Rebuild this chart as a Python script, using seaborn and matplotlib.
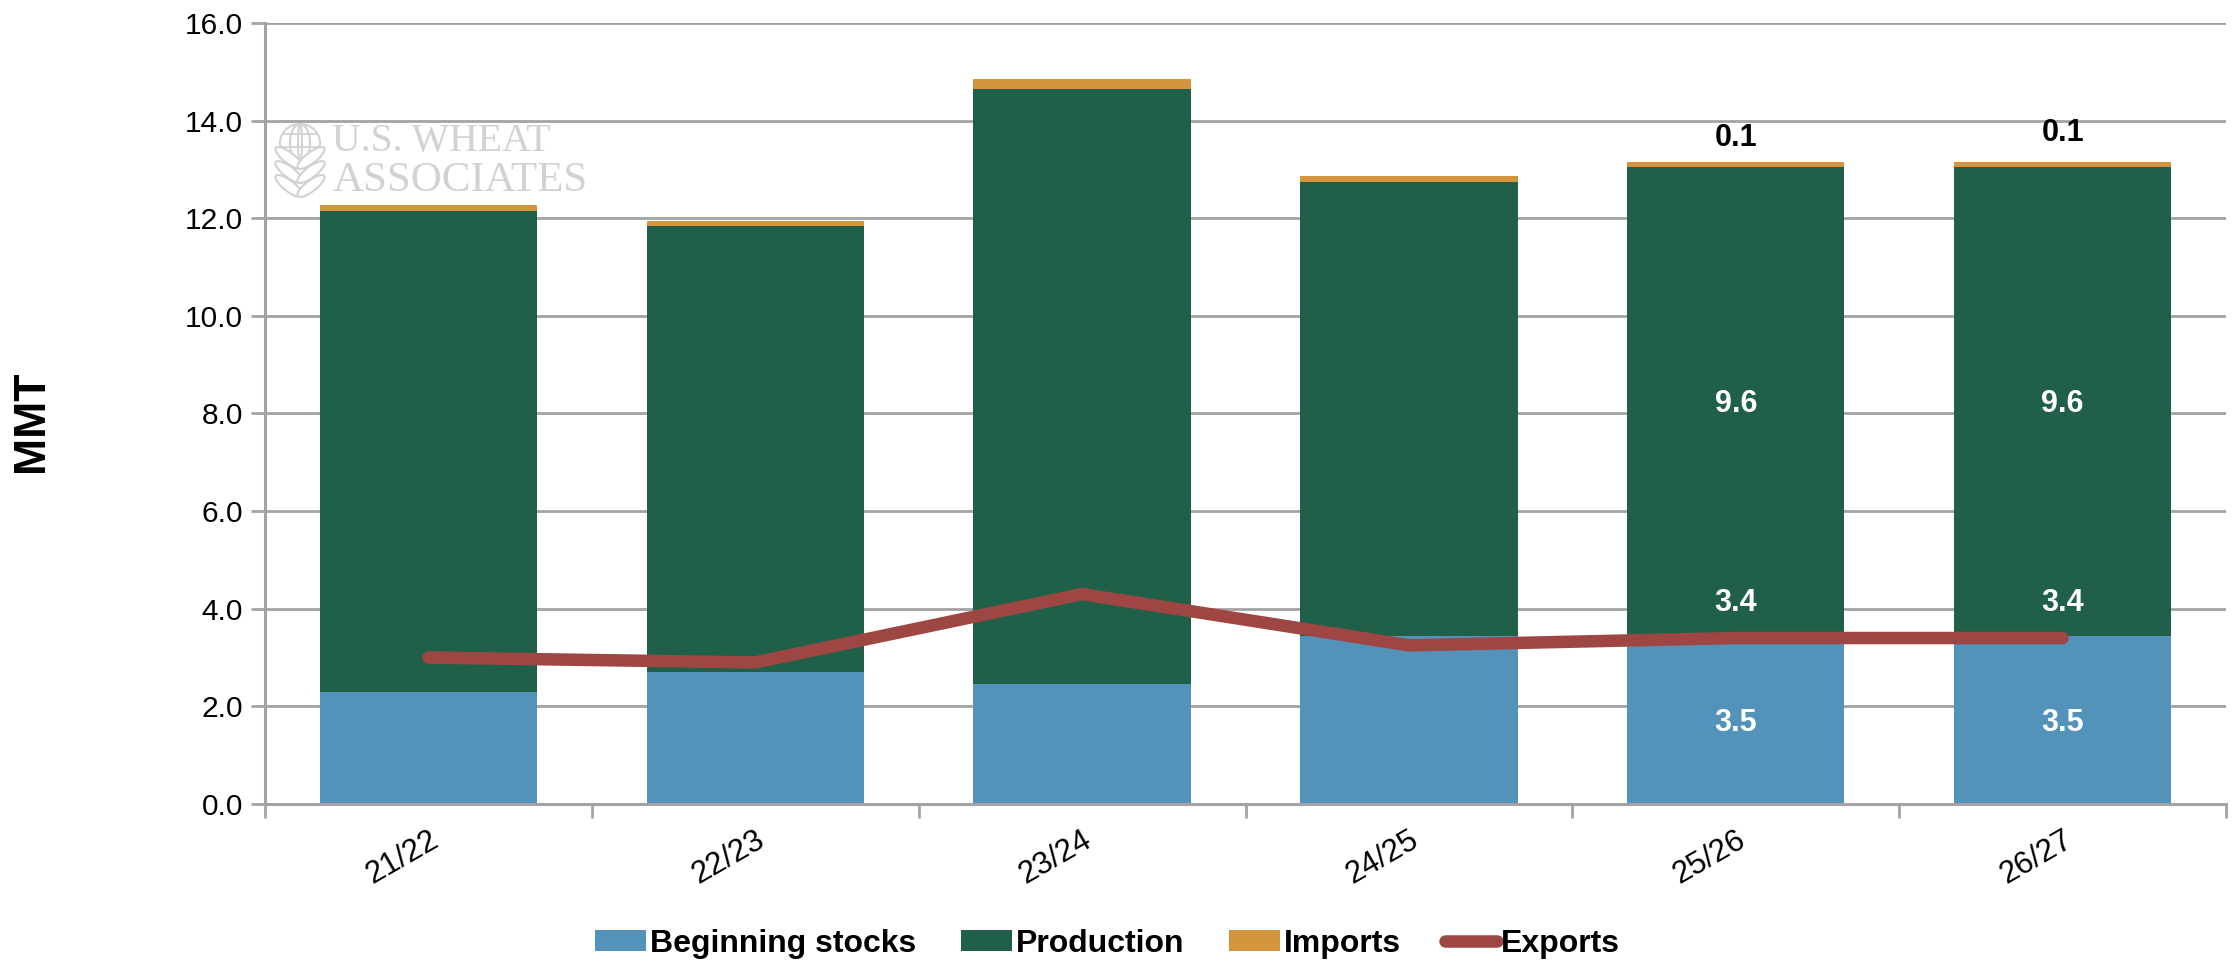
import matplotlib
matplotlib.use("Agg")
import matplotlib.pyplot as plt
import seaborn as sns
from matplotlib.patches import Ellipse

# valores (MMT)
years = ["21/22", "22/23", "23/24", "24/25", "25/26", "26/27"]
beginning = [2.3, 2.7, 2.45, 3.45, 3.45, 3.45]
production = [9.85, 9.15, 12.2, 9.3, 9.6, 9.6]
imports = [0.12, 0.1, 0.2, 0.12, 0.1, 0.1]
exports = [3.0, 2.9, 4.3, 3.25, 3.4, 3.4]

BLUE = "#5393b9"
GREEN = "#216048"
ORANGE = "#d5953e"
RED = "#9e4644"
GREY = "#a3a3a3"
WM = "#d2d2d2"

sns.set_theme(style="white")
plt.rcParams["font.family"] = ["Liberation Sans", "DejaVu Sans"]

fig = plt.figure(figsize=(22.36, 9.63), dpi=100)
ax = fig.add_axes([265 / 2236, 1 - 804 / 963, (2226 - 265) / 2236, (804 - 23) / 963])
ax.set_axisbelow(True)

# barras apiladas
below_imp = [b + p for b, p in zip(beginning, production)]
sns.barplot(x=years, y=beginning, color=BLUE, width=0.665, saturation=1, ax=ax,
            label="Beginning stocks", linewidth=0)
sns.barplot(x=years, y=production, bottom=beginning, color=GREEN, width=0.665, saturation=1, ax=ax,
            label="Production", linewidth=0)
sns.barplot(x=years, y=imports, bottom=below_imp, color=ORANGE, width=0.665, saturation=1, ax=ax,
            label="Imports", linewidth=0)
sns.lineplot(x=years, y=exports, color=RED, linewidth=9, sort=False, ax=ax, label="Exports",
             solid_capstyle="round", zorder=5)

# ejes
ax.set_xlim(-0.5, 5.5)
ax.set_ylim(0, 16)
ax.set_yticks(range(0, 17, 2))
ax.set_yticklabels([f"{v:.1f}" for v in range(0, 17, 2)], fontsize=21.5, color="black")
ax.yaxis.grid(True, color=GREY, linewidth=2.0)
ax.xaxis.grid(False)
ax.tick_params(axis="y", left=True, length=10, width=2, color=GREY, pad=6)
ax.set_xticks(range(6))
ax.set_xticklabels(years, rotation=30, ha="right", rotation_mode="anchor", fontsize=22.5, color="black")
ax.tick_params(axis="x", bottom=False, pad=9)
ax.set_xticks([i - 0.5 for i in range(7)], minor=True)
ax.tick_params(axis="x", which="minor", bottom=True, length=10, width=2, color=GREY)
sns.despine(ax=ax)
for side in ["left", "bottom"]:
    ax.spines[side].set_color(GREY)
    ax.spines[side].set_linewidth(2.2)
ax.set_ylabel("")
fig.text(32 / 2236, 1 - 421 / 963, "MMT", rotation=90, ha="center", va="center",
         fontsize=32, fontweight="bold", color="black")

# etiquetas de datos, solo 25/26 y 26/27
for i, extra in zip([4, 5], [0.5, 0.6]):
    total = beginning[i] + production[i] + imports[i]
    ax.text(i, beginning[i] / 2 - 0.06, f"{beginning[i]:.1f}", color="white", ha="center", va="center",
            fontsize=22, fontweight="bold")
    ax.text(i, beginning[i] + production[i] / 2 - 0.06, f"{production[i]:.1f}", color="white", ha="center",
            va="center", fontsize=22, fontweight="bold")
    ax.text(i, exports[i] + 0.72, f"{exports[i]:.1f}", color="white", ha="center", va="center",
            fontsize=22, fontweight="bold")
    ax.text(i, total + extra, f"{imports[i]:.1f}", color="black", ha="center", va="center",
            fontsize=22, fontweight="bold")

# marca de agua
fig.text(332 / 2236, 1 - 142 / 963, "U.S. WHEAT", family="Liberation Serif", fontsize=28.5, color=WM,
         ha="left", va="center")
fig.text(333 / 2236, 1 - 181 / 963, "ASSOCIATES", family="Liberation Serif", fontsize=31, color=WM,
         ha="left", va="center")
logo_x, logo_y = 300, 143
for w in [40, 20, 4]:
    fig.add_artist(Ellipse((logo_x / 2236, 1 - logo_y / 963), w / 2236, 38 / 963, fill=False,
                           edgecolor=WM, linewidth=1.5))
for dy, w in [(-9, 34), (4, 38)]:
    fig.add_artist(plt.Line2D([(logo_x - w / 2) / 2236, (logo_x + w / 2) / 2236],
                              [1 - (logo_y + dy) / 963] * 2, color=WM, linewidth=1.3))
for y0 in [158, 172, 186]:
    for sign in [-1, 1]:
        fig.add_artist(Ellipse(((logo_x + sign * 11) / 2236, 1 - y0 / 963), 15 / 2236, 24 / 963,
                               angle=sign * -25, facecolor="white", edgecolor=WM, linewidth=1.5))

# leyenda, Exports al final
handles, labels = ax.get_legend_handles_labels()
ax.get_legend().remove()
order = [labels.index(n) for n in ["Beginning stocks", "Production", "Imports", "Exports"]]
fig.legend([handles[i] for i in order], [labels[i] for i in order], loc="center",
           bbox_to_anchor=(1107 / 2236, 1 - 944 / 963), ncol=4, frameon=False,
           prop={"family": "Liberation Sans", "weight": "bold", "size": 23}, labelcolor="black",
           handlelength=1.6, handleheight=0.65, handletextpad=0.12, columnspacing=1.4, borderpad=0)

fig.savefig("out.png", dpi=100)
